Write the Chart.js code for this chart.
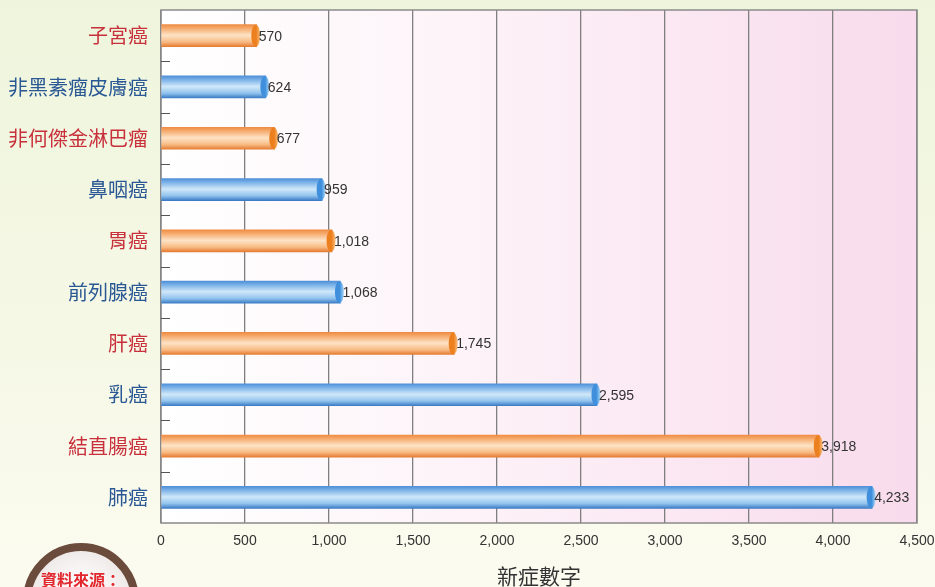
<!DOCTYPE html>
<html>
<head>
<meta charset="utf-8">
<script src="https://cdn.jsdelivr.net/npm/chart.js@4/dist/chart.umd.min.js"></script>
<style>
  html, body { margin: 0; padding: 0; background: #f6f8e8; }
  #wrap { width: 935px; height: 587px; position: relative; }
</style>
</head>
<body>
<div id="wrap"><canvas id="chart" width="935" height="587"></canvas></div>
<script>
// Cancer types (top to bottom) and their number of new cases
const categories = ['子宮癌', '非黑素瘤皮膚癌', '非何傑金淋巴瘤', '鼻咽癌', '胃癌', '前列腺癌', '肝癌', '乳癌', '結直腸癌', '肺癌'];
const newCases = [570, 624, 677, 959, 1018, 1068, 1745, 2595, 3918, 4233];
// Alternating bar tone for each row
const barTones = ['orange', 'blue', 'orange', 'blue', 'orange', 'blue', 'orange', 'blue', 'orange', 'blue'];
// X axis range and step
const xMin = 0;
const xMax = 4500;
const xStep = 500;
const xAxisTitle = '新症數字';
const sourceLabel = '資料來源：';

const CJK = '"Noto Sans CJK TC", "Noto Sans CJK SC", sans-serif';
const LATIN = '"Liberation Sans", Arial, sans-serif';
const BAR_THICK = 22;

const tones = {
  orange: {
    label: '#c8303c',
    stops: [[0, '#ef8c44'], [0.18, '#f6ad70'], [0.48, '#fde3c6'], [0.78, '#f8bc86'], [1, '#e67c32']],
    cap: '#ec7f1e', capLight: '#f9b873'
  },
  blue: {
    label: '#2a5894',
    stops: [[0, '#4f90d8'], [0.18, '#7db3e8'], [0.48, '#d0e8f9'], [0.78, '#92c4ee'], [1, '#3c7cc5']],
    cap: '#3f8fdc', capLight: '#9fd0f4'
  }
};

const fmt = v => Number(v).toLocaleString('en-US');

// Cylinder-like vertical shading for each bar, positioned from the category scale
function barFill(ctx) {
  const chart = ctx.chart;
  const yScale = chart.scales.y;
  const tone = tones[barTones[ctx.dataIndex]] || tones.orange;
  if (!yScale || ctx.dataIndex === undefined) return tone.stops[2][1];
  const cy = yScale.getPixelForValue(ctx.dataIndex);
  if (!isFinite(cy)) return tone.stops[2][1];
  const g = chart.ctx.createLinearGradient(0, cy - BAR_THICK / 2, 0, cy + BAR_THICK / 2);
  tone.stops.forEach(([o, c]) => g.addColorStop(o, c));
  return g;
}

// Backgrounds, plot frame and the source badge
const decorPlugin = {
  id: 'decor',
  beforeDraw(chart) {
    const { ctx, width, height, chartArea: a } = chart;
    ctx.save();
    const bg = ctx.createLinearGradient(0, 0, 0, height);
    bg.addColorStop(0, '#eef5dc');
    bg.addColorStop(0.6, '#f6f8e6');
    bg.addColorStop(1, '#fcfbf0');
    ctx.fillStyle = bg;
    ctx.fillRect(0, 0, width, height);

    const pg = ctx.createLinearGradient(a.left, 0, a.right, 0);
    pg.addColorStop(0, '#ffffff');
    pg.addColorStop(0.4, '#fdf3f8');
    pg.addColorStop(1, '#f8dbec');
    ctx.fillStyle = pg;
    ctx.fillRect(a.left, a.top, a.right - a.left, a.bottom - a.top);
    ctx.restore();
  },
  beforeDatasetsDraw(chart) {
    const { ctx, chartArea: a, scales: { y } } = chart;
    ctx.save();
    // plot frame
    ctx.strokeStyle = '#8a8a8a';
    ctx.lineWidth = 1.5;
    ctx.strokeRect(a.left, a.top, a.right - a.left, a.bottom - a.top);
    // short inner ticks on the category boundaries
    ctx.strokeStyle = '#555';
    ctx.lineWidth = 1;
    for (let i = 1; i < categories.length; i++) {
      const yb = Math.round((y.getPixelForValue(i - 1) + y.getPixelForValue(i)) / 2) + 0.5;
      ctx.beginPath();
      ctx.moveTo(a.left, yb);
      ctx.lineTo(a.left + 9, yb);
      ctx.stroke();
    }
    ctx.restore();
  },
  afterDatasetsDraw(chart) {
    const { ctx } = chart;
    const meta = chart.getDatasetMeta(0);
    ctx.save();
    meta.data.forEach((el, i) => {
      const tone = tones[barTones[i]];
      const h = el.height;
      // rounded end cap
      const cg = ctx.createLinearGradient(el.x - 5, 0, el.x + 3, 0);
      cg.addColorStop(0, tone.cap);
      cg.addColorStop(0.55, tone.cap);
      cg.addColorStop(1, tone.capLight);
      ctx.fillStyle = cg;
      ctx.beginPath();
      ctx.ellipse(el.x - 1, el.y, 4.5, h / 2, 0, 0, Math.PI * 2);
      ctx.fill();
      // value label
      ctx.fillStyle = '#333';
      ctx.font = '14px ' + LATIN;
      ctx.textAlign = 'left';
      ctx.textBaseline = 'middle';
      ctx.fillText(fmt(newCases[i]), el.x + 2, el.y + 1);
    });
    ctx.restore();
  },
  afterDraw(chart) {
    const { ctx } = chart;
    ctx.save();
    // source badge in the lower-left corner
    const cx = 81, cy = 601, r = 58;
    const inner = ctx.createRadialGradient(cx, cy - 10, 5, cx, cy, r);
    inner.addColorStop(0, '#ffffff');
    inner.addColorStop(1, '#ece6e4');
    ctx.fillStyle = inner;
    ctx.beginPath();
    ctx.arc(cx, cy, r - 4, 0, Math.PI * 2);
    ctx.fill();
    ctx.strokeStyle = '#6b4b3b';
    ctx.lineWidth = 8;
    ctx.beginPath();
    ctx.arc(cx, cy, r - 4, 0, Math.PI * 2);
    ctx.stroke();
    ctx.fillStyle = '#e2262c';
    ctx.font = 'bold 16px ' + CJK;
    ctx.textAlign = 'center';
    ctx.textBaseline = 'middle';
    ctx.fillText(sourceLabel, cx, 580);
    ctx.restore();
  }
};

new Chart(document.getElementById('chart'), {
  type: 'bar',
  data: {
    labels: categories,
    datasets: [{
      data: newCases,
      backgroundColor: barFill,
      borderWidth: 0,
      barThickness: BAR_THICK
    }]
  },
  options: {
    indexAxis: 'y',
    responsive: false,
    animation: false,
    layout: { padding: { top: 10, right: 18, left: 0, bottom: 0 } },
    plugins: {
      legend: { display: false },
      tooltip: { enabled: false }
    },
    scales: {
      x: {
        min: xMin,
        max: xMax,
        ticks: {
          stepSize: xStep,
          callback: v => fmt(v),
          color: '#333',
          font: { family: LATIN, size: 14 },
          padding: 10,
          maxRotation: 0
        },
        grid: { color: '#7f7f7f', lineWidth: 1.3, drawTicks: false },
        border: { display: false },
        title: {
          display: true,
          text: xAxisTitle,
          color: '#333',
          font: { family: CJK, size: 21, lineHeight: 1 },
          padding: { top: 0, bottom: 0 }
        },
        afterFit(scale) {
          scale.height = 64;
          scale.paddingLeft = 0;
          scale.paddingRight = 0;
        }
      },
      y: {
        grid: { display: false, drawTicks: false },
        border: { display: false },
        ticks: {
          color: ctx => (tones[barTones[ctx.index]] || tones.orange).label,
          font: { family: CJK, size: 20 },
          padding: 13
        },
        afterFit(scale) {
          scale.width = 161;
          scale.paddingTop = 0;
          scale.paddingBottom = 0;
        }
      }
    }
  },
  plugins: [decorPlugin]
});
</script>
</body>
</html>
